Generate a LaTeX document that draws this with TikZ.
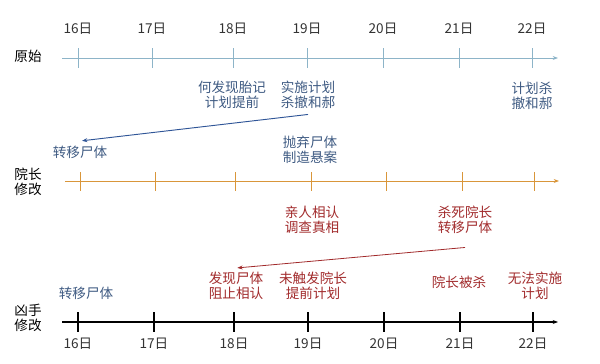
\documentclass[tikz,border=0pt]{standalone}
\usepackage{fontspec}
\setmainfont{Noto Sans CJK SC}
\usetikzlibrary{arrows.meta}
\definecolor{axblue}{HTML}{8DB4C8}
\definecolor{axorange}{HTML}{D9963A}
\definecolor{txtblue}{HTML}{3E5A82}
\definecolor{arrblue}{HTML}{2F5597}
\definecolor{txtred}{HTML}{A12A2B}
\definecolor{datecol}{HTML}{333333}
\tikzset{
  lbl/.style={font=\fontsize{10.2}{11.3}\selectfont, align=center, inner sep=0pt},
  bluelbl/.style={lbl, text=txtblue},
  redlbl/.style={lbl, text=txtred},
  datelbl/.style={lbl, text=datecol},
  rowlbl/.style={lbl, text=black},
  tickmark/.style={line width=0.6pt},
}
\begin{document}
\begin{tikzpicture}[x=0.75pt,y=-0.75pt]
\useasboundingbox (0,0) rectangle (600,364);
% top axis
\coordinate (a0) at (62,58);
\coordinate (a1) at (558,58);
\draw[axblue, line width=0.7pt, -{Stealth[length=4pt,width=3pt]}] (a0) -- (a1);
\foreach \x/\d in {78/16,152/17,233/18,307/19,383/20,459/21,532/22}{
  \draw[axblue, tickmark] (\x,48) -- (\x,68);
  \node[datelbl] (td\d) at (\x,29) {\d 日};
}
\node[rowlbl] (r1) at (28,56) {原始};
% middle axis
\coordinate (b0) at (65,181);
\coordinate (b1) at (559,181);
\draw[axorange, line width=0.7pt, -{Stealth[length=4pt,width=3pt]}] (b0) -- (b1);
\foreach \x in {80,155,235,311,386,462,534}{
  \draw[axorange, tickmark] (\x,172) -- (\x,191);
}
\node[rowlbl] (r2) at (28,182) {院长\\修改};
% bottom axis
\coordinate (c0) at (62,322);
\coordinate (c1) at (558,322);
\draw[black, line width=0.8pt, -{Stealth[length=4pt,width=3pt]}] (c0) -- (c1);
\foreach \x/\d in {78/16,154/17,234/18,308/19,384/20,460/21,533/22}{
  \draw[black, line width=0.9pt] (\x,312) -- (\x,332);
  \node[datelbl] (bd\d) at (\x,344) {\d 日};
}
\node[rowlbl] (r3) at (28,318) {凶手\\修改};
% top labels
\node[bluelbl] (t18) at (232,95) {何发现胎记\\计划提前};
\node[bluelbl] (t19) at (308,95) {实施计划\\杀撤和郝};
\node[bluelbl] (t22) at (532,96) {计划杀\\撤和郝};
% middle labels
\node[bluelbl] (m16) at (80,152) {转移尸体};
\node[bluelbl] (m19) at (310,150) {抛弃尸体\\制造悬案};
\node[redlbl] (m19b) at (312,220) {亲人相认\\调查真相};
\node[redlbl] (m21) at (465,220) {杀死院长\\转移尸体};
% bottom labels
\node[bluelbl] (b16) at (86,293) {转移尸体};
\node[redlbl] (b18) at (236,286) {发现尸体\\阻止相认};
\node[redlbl] (b19) at (313,286) {未触发院长\\提前计划};
\node[redlbl] (b21) at (459,282) {院长被杀};
\node[redlbl] (b22) at (535,286) {无法实施\\计划};
% arrows
\draw[arrblue, line width=0.7pt, -{Stealth[length=4pt,width=3pt]}] ([yshift=-4pt]t19.south) -- ([xshift=1.5pt,yshift=3.5pt]m16.north);
\draw[txtred, line width=0.6pt, -{Stealth[length=4pt,width=3pt]}] ([yshift=-10pt]m21.south) -- ([xshift=1pt,yshift=3pt]b18.north);
\end{tikzpicture}
\end{document}
